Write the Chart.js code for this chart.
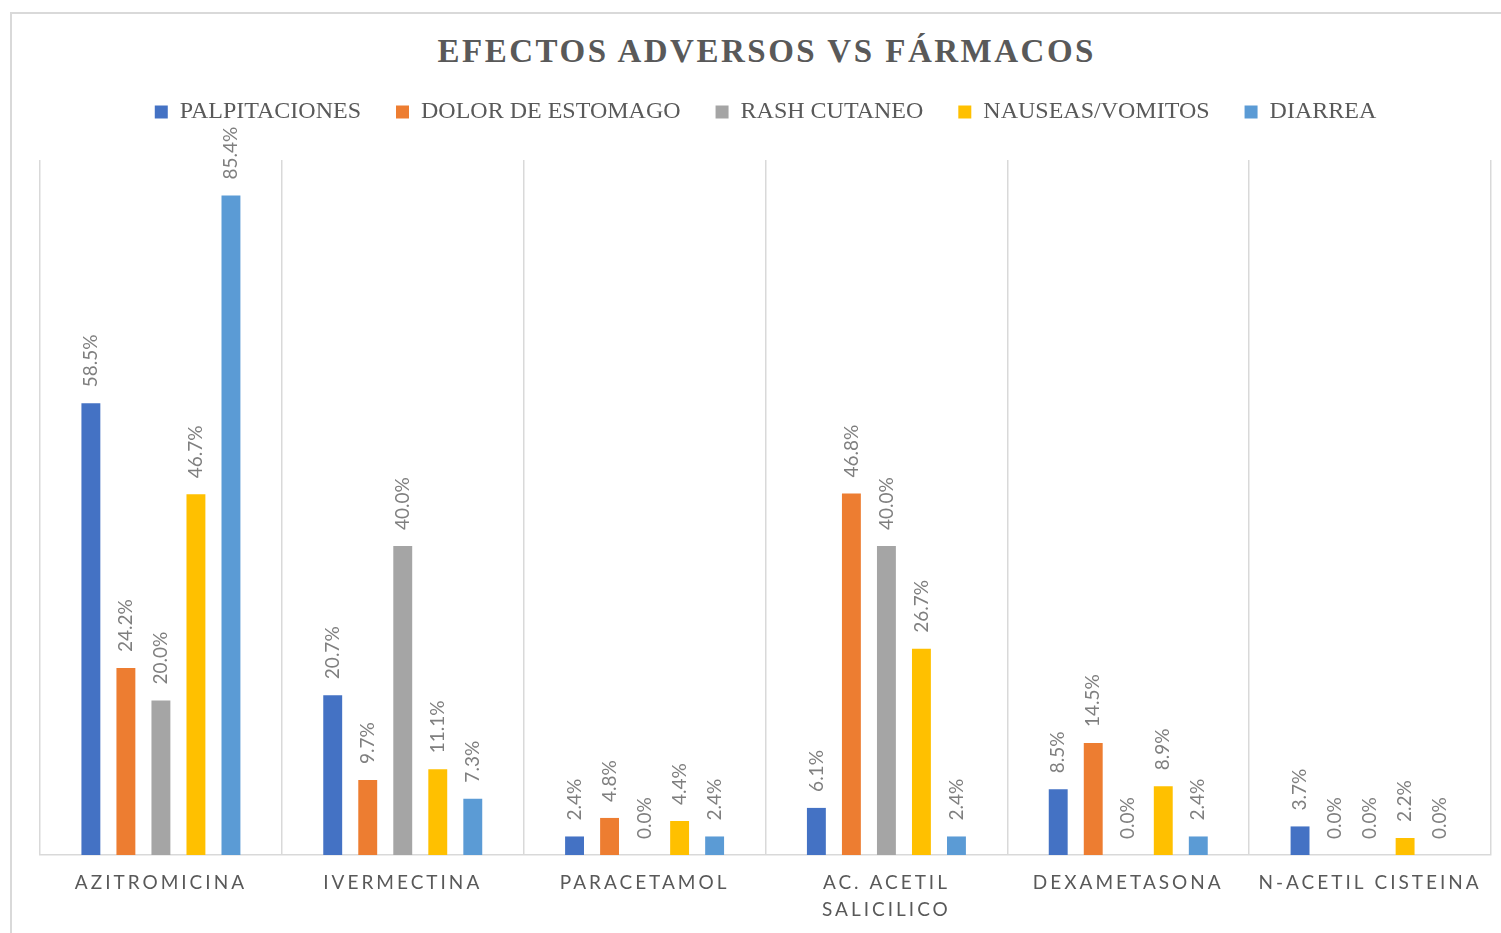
<!DOCTYPE html>
<html>
<head>
<meta charset="utf-8">
<script src="https://cdn.jsdelivr.net/npm/chart.js@4.4.1/dist/chart.umd.min.js"></script>
<style>
  body { margin: 0; background: #fff; }
  #wrap { position: relative; width: 1501px; height: 933px; overflow: hidden; }
  #frame { position: absolute; left: 10px; top: 12px; width: 1600px; height: 1000px; border: 2px solid #d9d9d9; box-sizing: border-box; }
  #title {
    position: absolute; left: 40px; width: 1451px; top: 35px;
    text-align: center; font: bold 33px "Liberation Serif", "Times New Roman", serif;
    line-height: 33px; letter-spacing: 2.5px; padding-left: 2.5px; box-sizing: border-box; color: #595959;
  }
  canvas { position: absolute; left: 0; top: 0; }
</style>
</head>
<body>
<div id="wrap">
  <div id="frame"></div>
  <div id="title">EFECTOS ADVERSOS VS FÁRMACOS</div>
  <canvas id="chart" width="1501" height="933"></canvas>
</div>
<script>
const farmacos = ['AZITROMICINA', 'IVERMECTINA', 'PARACETAMOL', ['AC. ACETIL', 'SALICILICO'], 'DEXAMETASONA', 'N-ACETIL CISTEINA']

const palpitaciones = [58.5, 20.7, 2.4, 6.1, 8.5, 3.7]
const dolorEstomago = [24.2, 9.7, 4.8, 46.8, 14.5, 0.0]
const rashCutaneo = [20.0, 40.0, 0.0, 40.0, 0.0, 0.0]
const nauseasVomitos = [46.7, 11.1, 4.4, 26.7, 8.9, 2.2]
const diarrea = [85.4, 7.3, 2.4, 2.4, 2.4, 0.0]

const series = [
  { label: 'PALPITACIONES', data: palpitaciones, color: '#4472C4' },
  { label: 'DOLOR DE ESTOMAGO', data: dolorEstomago, color: '#ED7D31' },
  { label: 'RASH CUTANEO', data: rashCutaneo, color: '#A5A5A5' },
  { label: 'NAUSEAS/VOMITOS', data: nauseasVomitos, color: '#FFC000' },
  { label: 'DIARREA', data: diarrea, color: '#5B9BD5' },
]

// legend needs extra room below it before the plot starts
const legendSpace = {
  id: 'legendSpace',
  beforeInit(chart) {
    const fit = chart.legend.fit
    chart.legend.fit = function () {
      fit.bind(chart.legend)()
      this.height = 95
    }
  }
}

// rotated % labels above each bar, then letter spacing for the x labels (drawn after datasets)
const barLabels = {
  id: 'barLabels',
  afterDatasetsDraw(chart) {
    const ctx = chart.ctx
    ctx.save()
    ctx.font = '19px Lato, "Liberation Sans", sans-serif'
    ctx.fillStyle = '#7f7f7f'
    ctx.textAlign = 'left'
    ctx.textBaseline = 'middle'
    chart.data.datasets.forEach((ds, i) => {
      chart.getDatasetMeta(i).data.forEach((bar, j) => {
        ctx.save()
        ctx.translate(bar.x, bar.y - 16)
        ctx.rotate(-Math.PI / 2)
        ctx.fillText(ds.data[j].toFixed(1) + '%', 0, 0)
        ctx.restore()
      })
    })
    ctx.restore()
    ctx.letterSpacing = '3px'
  },
  afterDraw(chart) {
    chart.ctx.letterSpacing = '0px'
  }
}

new Chart(document.getElementById('chart'), {
  type: 'bar',
  data: {
    labels: farmacos,
    datasets: series.map(s => ({
      label: s.label,
      data: s.data,
      backgroundColor: s.color,
      categoryPercentage: 0.724,
      barPercentage: 0.54,
    })),
  },
  options: {
    responsive: false,
    animation: false,
    layout: { padding: { top: 65, left: 40, right: 10, bottom: 0 } },
    plugins: {
      title: { display: false },
      tooltip: { enabled: false },
      legend: {
        position: 'top',
        labels: {
          boxWidth: 13,
          boxHeight: 13,
          padding: 35,
          color: '#595959',
          font: { family: '"Liberation Serif", "Times New Roman", serif', size: 24 },
        },
      },
    },
    scales: {
      y: {
        display: false,
        min: 0,
        max: 90,
      },
      x: {
        afterFit: (s) => { s.height = 78 },
        grid: { color: '#d9d9d9', lineWidth: 1.5, drawTicks: false },
        border: { color: '#d9d9d9', width: 1.5 },
        ticks: {
          z: 1,
          padding: 14,
          autoSkip: false,
          maxRotation: 0,
          color: '#595959',
          font: { family: 'Lato, "Liberation Sans", sans-serif', size: 19, lineHeight: 1.42 },
        },
      },
    },
  },
  plugins: [legendSpace, barLabels],
})
</script>
</body>
</html>
